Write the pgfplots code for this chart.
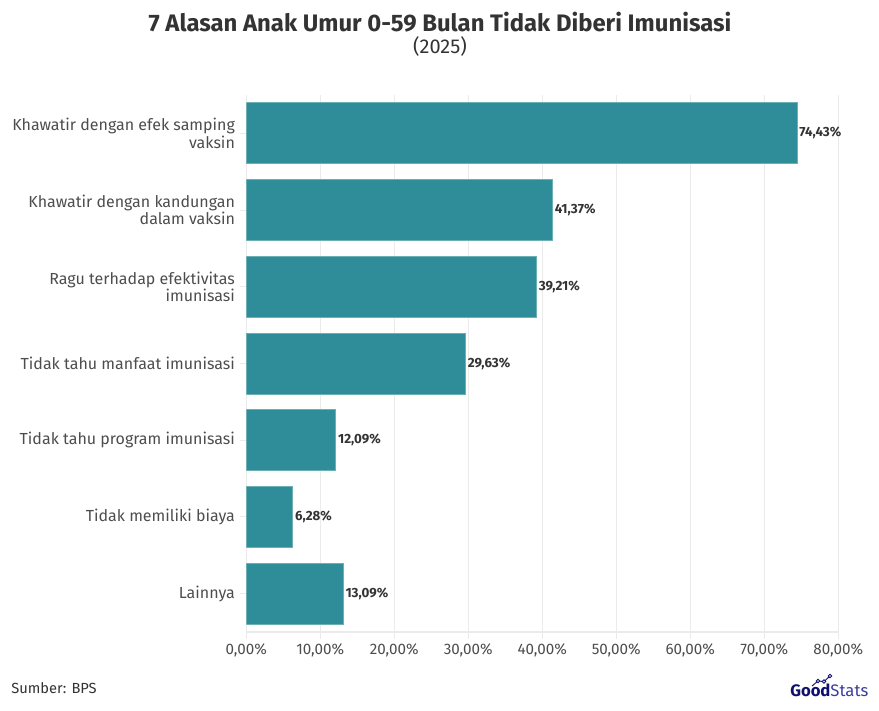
\documentclass[border=0pt]{standalone}
\usepackage{fontspec}
\setmainfont{Fira Sans}
\usepackage{pgfplots}
\pgfplotsset{compat=1.18}

\definecolor{barc}{HTML}{2E8D98}
\definecolor{labc}{HTML}{4D4D4D}
\definecolor{titc}{HTML}{333333}
\definecolor{gridc}{HTML}{EBEBEB}
\definecolor{navy}{HTML}{10106E}
\definecolor{navylt}{HTML}{3C3CA0}

\begin{document}
\begin{tikzpicture}
% 1 px of the reference = 0.75pt
\path[use as bounding box] (0,0) rectangle (659.25pt,533.25pt);

\node[anchor=base, inner sep=0pt, font=\bfseries\fontsize{17.9}{20}\selectfont, text=titc] at (330pt,509.5pt)
  {7 Alasan Anak Umur 0-59 Bulan Tidak Diberi Imunisasi};
\node[anchor=base, inner sep=0pt, font=\fontsize{15}{17}\selectfont, text=titc] at (330pt,493pt) {(2025)};

\begin{axis}[
  at={(184.7pt,59.25pt)}, anchor=south west,
  scale only axis, width=444pt, height=402.75pt,
  xbar, bar width=45.75pt,
  xmin=0, xmax=80, ymin=-0.5, ymax=6.5, y dir=reverse,
  xtick={0,10,...,80},
  ytick={0,...,6},
  yticklabels={{Khawatir dengan efek samping\\vaksin},
               {Khawatir dengan kandungan\\dalam vaksin},
               {Ragu terhadap efektivitas\\imunisasi},
               {Tidak tahu manfaat imunisasi},
               {Tidak tahu program imunisasi},
               {Tidak memiliki biaya},
               {Lainnya}},
  yticklabel style={align=right, font=\fontsize{12}{13}\selectfont, text=labc},
  /pgf/number format/assume math mode=true,
  xticklabel={\pgfmathprintnumber[fixed,fixed zerofill,precision=2,use comma]{\tick}\%},
  xticklabel style={font=\fontsize{11.4}{13}\selectfont, text=labc},
  axis lines*=left,
  x axis line style={draw=gridc, line width=0.8pt},
  y axis line style={draw=none},
  tick align=outside,
  major tick length=5pt,
  tick style={draw=gridc, line width=0.8pt},
  xmajorgrids,
  grid style={draw=gridc, line width=0.8pt},
  nodes near coords={\pgfmathprintnumber[fixed,fixed zerofill,precision=2,use comma,assume math mode=true]{\pgfplotspointmeta}\%},
  point meta=x,
  nodes near coords style={font=\bfseries\fontsize{10}{11}\selectfont, text=titc, anchor=west, inner sep=1.5pt},
]
\addplot[fill=barc, draw=barc!70!white, line width=0.6pt] coordinates {
  (74.43,0)
  (41.37,1)
  (39.21,2)
  (29.63,3)
  (12.09,4)
  (6.28,5)
  (13.09,6)
};
\end{axis}

\node[anchor=base west, inner sep=0pt, font=\fontsize{11}{13}\selectfont, text=titc] at (8.25pt,12.75pt) {Sumber: BPS};

% GoodStats logo
\node[anchor=base west, inner sep=0pt, font=\fontsize{12.5}{14}\selectfont] at (592.5pt,10.7pt)
  {\textcolor{navy}{\bfseries Good}\textcolor{navylt}{Stats}};
\draw[navy, line width=0.7pt] (609pt,18.75pt) -- (613.5pt,22.5pt) -- (618pt,22.1pt) -- (622.5pt,26.25pt);
\foreach \p in {(613.5pt,22.5pt),(618pt,22.1pt),(622.5pt,26.25pt)}
  \draw[navy, line width=0.6pt, fill=white] \p circle (1.3pt);
\end{tikzpicture}
\end{document}
